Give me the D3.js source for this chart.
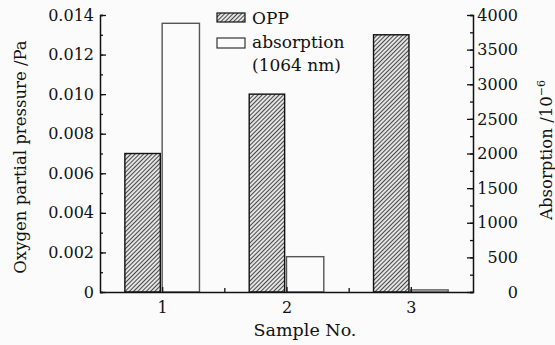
<!DOCTYPE html>
<html>
<head>
<meta charset="utf-8">
<script src="https://cdn.jsdelivr.net/npm/d3@7"></script>
<style>
  body { margin: 0; background: #fbfbfb; }
  svg { display: block; }
  text { font-family: "DejaVu Serif", serif; fill: #111; }
</style>
</head>
<body>
<svg width="555" height="345"></svg>
<script>
var samples = [1, 2, 3];
var oppValues = [0.007, 0.010, 0.013];
var absorptionValues = [3880, 510, 30];
var leftTicks = [0, 0.002, 0.004, 0.006, 0.008, 0.010, 0.012, 0.014];
var rightTicks = [0, 500, 1000, 1500, 2000, 2500, 3000, 3500, 4000];

var svg = d3.select("svg"),
  plotLeft = 100,
  plotRight = 473,
  plotTop = 15,
  plotBottom = 292;

var x = d3.scaleLinear().domain([0.5, 3.5]).range([plotLeft, plotRight]),
  yL = d3.scaleLinear().domain([0, 0.014]).range([plotBottom, plotTop]),
  yR = d3.scaleLinear().domain([0, 4000]).range([plotBottom, plotTop]);

// hatch pattern
var defs = svg.append("defs");
var pat = defs.append("pattern")
  .attr("id", "hatch")
  .attr("patternUnits", "userSpaceOnUse")
  .attr("width", 3)
  .attr("height", 3)
  .attr("patternTransform", "rotate(45)");
pat.append("rect").attr("width", 3).attr("height", 3).attr("fill", "#e4e4e4");
pat.append("line")
  .attr("x1", 0).attr("y1", 0).attr("x2", 0).attr("y2", 3)
  .attr("stroke", "#2a2a2a").attr("stroke-width", 1.7);

// bars
svg.selectAll(".opp")
  .data(samples)
  .enter()
  .append("rect")
  .attr("class", "opp")
  .attr("x", function (d) { return x(d - 0.3); })
  .attr("width", function (d) { return x(d - 0.015) - x(d - 0.3); })
  .attr("y", function (d, i) { return yL(oppValues[i]); })
  .attr("height", function (d, i) { return plotBottom - yL(oppValues[i]); })
  .attr("fill", "url(#hatch)")
  .attr("stroke", "#111")
  .attr("stroke-width", 1.4);

svg.selectAll(".abs")
  .data(samples)
  .enter()
  .append("rect")
  .attr("class", "abs")
  .attr("x", function (d) { return x(d); })
  .attr("width", function (d) { return x(d + 0.3) - x(d); })
  .attr("y", function (d, i) { return yR(absorptionValues[i]); })
  .attr("height", function (d, i) { return plotBottom - yR(absorptionValues[i]); })
  .attr("fill", "none")
  .attr("stroke", "#555")
  .attr("stroke-width", 1.4);

function styleAxis(g) {
  g.select(".domain").attr("stroke", "#111").attr("stroke-width", 1.5);
  g.selectAll(".tick line").attr("stroke", "#111").attr("stroke-width", 1.3);
  g.selectAll("text").attr("font-family", "DejaVu Serif, serif").attr("font-size", 16).attr("fill", "#111");
}

// left axis
var gl = svg.append("g").attr("transform", "translate(" + plotLeft + ",0)");
gl.call(d3.axisLeft(yL).tickValues(d3.range(0, 0.0145, 0.001)).tickSize(-3).tickFormat(""))
  .call(styleAxis);
gl.append("g")
  .call(d3.axisLeft(yL).tickValues(leftTicks).tickSizeInner(-6).tickSizeOuter(0).tickPadding(6)
    .tickFormat(function (d) { return d === 0 ? "0" : d3.format(".3f")(d); }))
  .call(styleAxis)
  .select(".domain").remove();

// right axis
var gr = svg.append("g").attr("transform", "translate(" + plotRight + ",0)");
gr.call(d3.axisRight(yR).tickValues(d3.range(0, 4001, 250)).tickSize(-3).tickFormat(""))
  .call(styleAxis);
gr.append("g")
  .call(d3.axisRight(yR).tickValues(rightTicks).tickSizeInner(-6).tickSizeOuter(0).tickPadding(45)
    .tickFormat(d3.format("d")))
  .call(styleAxis)
  .call(function (g) {
    g.select(".domain").remove();
    g.selectAll("text").attr("text-anchor", "end");
  });

// bottom axis
var gb = svg.append("g").attr("transform", "translate(0," + plotBottom + ")");
gb.call(d3.axisBottom(x).tickValues([1.5, 2.5]).tickSize(-4).tickSizeOuter(0).tickFormat(""))
  .call(styleAxis);
gb.append("g")
  .call(d3.axisBottom(x).tickValues(samples).tickSizeInner(-5).tickSizeOuter(0).tickPadding(10)
    .tickFormat(d3.format("d")))
  .call(styleAxis)
  .select(".domain").remove();

// axis titles
svg.append("text")
  .attr("transform", "translate(26,157) rotate(-90)")
  .attr("text-anchor", "middle")
  .attr("font-size", 16.5)
  .text("Oxygen partial pressure /Pa");

svg.append("text")
  .attr("x", 305)
  .attr("y", 336)
  .attr("text-anchor", "middle")
  .attr("font-size", 17.5)
  .text("Sample No.");

var rt = svg.append("text")
  .attr("transform", "translate(552,150) rotate(-90)")
  .attr("text-anchor", "middle")
  .attr("font-size", 16.5);
rt.append("tspan").text("Absorption /10");
rt.append("tspan").attr("dy", -7).attr("font-size", 11).text("−6");

// legend
var leg = svg.append("g");
leg.append("rect").attr("x", 217).attr("y", 13).attr("width", 28).attr("height", 9)
  .attr("fill", "url(#hatch)").attr("stroke", "#111").attr("stroke-width", 1.2);
leg.append("text").attr("x", 252).attr("y", 24).attr("font-size", 17).text("OPP");
leg.append("rect").attr("x", 217).attr("y", 38).attr("width", 28).attr("height", 10)
  .attr("fill", "none").attr("stroke", "#333").attr("stroke-width", 1.2);
leg.append("text").attr("x", 252).attr("y", 48).attr("font-size", 17).text("absorption");
leg.append("text").attr("x", 252).attr("y", 71).attr("font-size", 17).text("(1064 nm)");
</script>
</body>
</html>
